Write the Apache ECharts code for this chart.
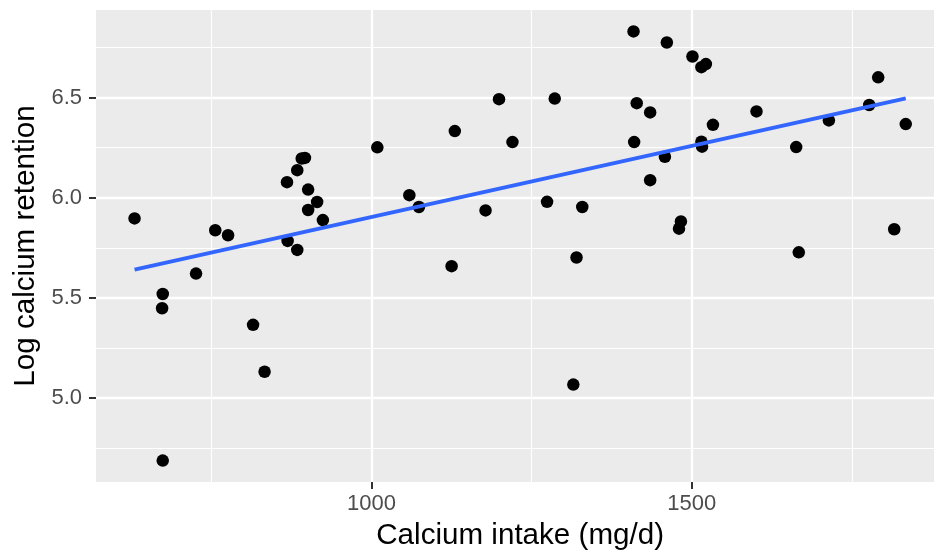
<!DOCTYPE html>
<html>
<head>
<meta charset="utf-8">
<script src="https://cdn.jsdelivr.net/npm/echarts@6.0.0/dist/echarts.min.js"></script>
<style>
  html, body { margin: 0; background: #fff; overflow: hidden; }
  /* the reference panel runs past the right edge of the picture */
  #main { width: 946px; height: 556px; }
</style>
</head>
<body>
<div id="main"></div>
<script>
// calcium intake (mg/d) and log calcium retention
const intake = [
  630, 674, 673, 674, 726, 756, 776, 815, 833, 868, 869, 884, 884, 891,
  896, 901, 901, 915, 924, 1009, 1059, 1074, 1125, 1130, 1178, 1199, 1220,
  1274, 1286, 1315, 1320, 1329, 1409, 1410, 1414, 1435, 1435, 1458, 1461,
  1480, 1483, 1501, 1515, 1522, 1515, 1516, 1533, 1601, 1663, 1667, 1714,
  1777, 1791, 1816, 1834
];
const logRetention = [
  5.897, 5.520, 5.449, 4.689, 5.622, 5.838, 5.813, 5.366, 5.132, 6.078,
  5.785, 6.138, 5.740, 6.196, 6.199, 6.041, 5.939, 5.979, 5.889, 6.252,
  6.013, 5.954, 5.659, 6.333, 5.937, 6.492, 6.278, 5.980, 6.495, 5.068,
  5.702, 5.954, 6.830, 6.278, 6.472, 6.088, 6.426, 6.205, 6.775, 5.846,
  5.882, 6.705, 6.652, 6.667, 6.280, 6.255, 6.364, 6.431, 6.253, 5.728,
  6.386, 6.463, 6.601, 5.843, 6.368
];
const xTicks = [1000, 1500];
const yTicks = [5.0, 5.5, 6.0, 6.5];

// ggplot pads the data range by 5% on each side
function padded(v) {
  const lo = Math.min(...v), hi = Math.max(...v), d = (hi - lo) * 0.05;
  return [lo - d, hi + d];
}

// straight line fit, same as geom_smooth(method = "lm")
function lmFit(xs, ys) {
  const n = xs.length;
  const mx = xs.reduce((a, b) => a + b, 0) / n;
  const my = ys.reduce((a, b) => a + b, 0) / n;
  let sxy = 0, sxx = 0;
  for (let i = 0; i < n; i++) {
    sxy += (xs[i] - mx) * (ys[i] - my);
    sxx += (xs[i] - mx) * (xs[i] - mx);
  }
  const b = sxy / sxx;
  return x => my + b * (x - mx);
}

const xr = padded(intake);
const yr = padded(logRetention);
const fit = lmFit(intake, logRetention);
const xLo = Math.min(...intake), xHi = Math.max(...intake);

const font = 'Liberation Sans';
const tickLab = { color: '#4D4D4D', fontSize: 22, fontFamily: font };
const titleText = { color: '#000', fontSize: 29.6, fontFamily: font };
const grid = { lineStyle: { color: '#FFFFFF', width: 2.3 } };
const minorGrid = { show: true, lineStyle: { color: '#FFFFFF', width: 1.1 } };
const tick = { show: true, length: 7, lineStyle: { color: '#333333', width: 2 } };

const chart = echarts.init(document.getElementById('main'));
chart.setOption({
  animation: false,
  backgroundColor: '#FFFFFF',
  grid: {
    left: 96, top: 10, bottom: 72.5, right: 1.7,
    show: true, backgroundColor: '#EBEBEB', borderWidth: 0
  },
  xAxis: {
    type: 'value',
    min: xr[0], max: xr[1],
    minInterval: 500, maxInterval: 500,
    name: 'Calcium intake (mg/d)',
    nameLocation: 'middle',
    nameGap: 39,
    nameTextStyle: titleText,
    axisLine: { show: false },
    axisTick: Object.assign({ customValues: xTicks }, tick),
    axisLabel: Object.assign({
      customValues: xTicks, margin: 11,
      formatter: v => String(v)
    }, tickLab),
    splitLine: grid,
    minorTick: { show: false, splitNumber: 2 },
    minorSplitLine: minorGrid
  },
  yAxis: {
    type: 'value',
    min: yr[0], max: yr[1],
    minInterval: 0.5, maxInterval: 0.5,
    name: 'Log calcium retention',
    nameLocation: 'middle',
    nameGap: 54,
    nameTextStyle: titleText,
    axisLine: { show: false },
    axisTick: Object.assign({ customValues: yTicks }, tick),
    axisLabel: Object.assign({
      customValues: yTicks, margin: 14,
      formatter: v => v.toFixed(1)
    }, tickLab),
    splitLine: grid,
    minorTick: { show: false, splitNumber: 2 },
    minorSplitLine: minorGrid
  },
  series: [
    {
      type: 'scatter',
      data: intake.map((x, i) => [x, logRetention[i]]),
      symbolSize: 12.5,
      itemStyle: { color: '#000000', opacity: 1 },
      z: 2
    },
    {
      type: 'line',
      data: [[xLo, fit(xLo)], [xHi, fit(xHi)]],
      showSymbol: false,
      lineStyle: { color: '#3366FF', width: 3.8 },
      z: 3
    }
  ]
});
</script>
</body>
</html>
